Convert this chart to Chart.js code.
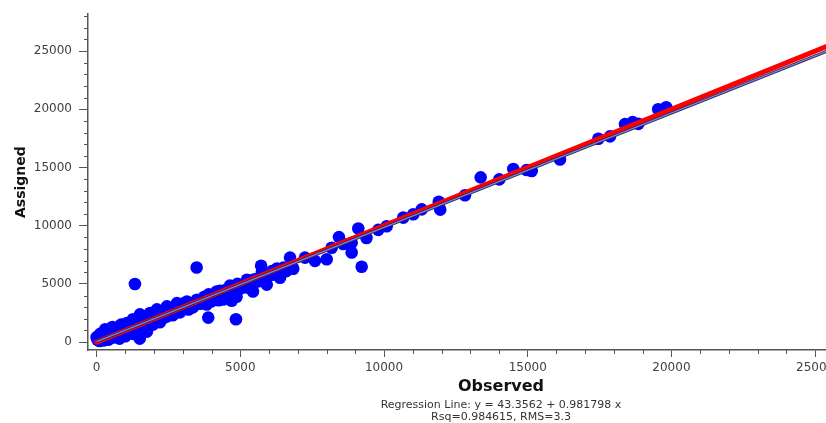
<!DOCTYPE html>
<html><head><meta charset="utf-8">
<script src="https://cdn.jsdelivr.net/npm/chart.js@4"></script>
<style>
html,body{margin:0;padding:0;overflow:hidden;background:#fff;}
#wrap{position:relative;width:930px;height:423px;}
</style></head><body>
<div id="wrap"><canvas id="c"></canvas></div>
<script>
// Observed (x) and Assigned (y) values
const observedValues = [
  0,115,463,706,1054,1263,1507,1855,2098,2446,2794,3142,3490,3838,4176,4639,5230,5752,6274,
  30,250,500,800,1000,1300,1500,1750,1960,2200,2440,2900,3350,3830,4400,4870,5440,5920,6380,
  100,300,400,600,700,900,1100,1200,1400,1600,1700,1900,2000,2300,2500,2700,2900,3100,3300,3500,3700,3900,4100,4300,4500,4700,4900,5100,5300,5500,5700,5900,6100,
  300,550,850,200,
  150,350,550,750,950,1150,1350,1450,1650,1800,2050,2150,2350,2600,2650,2850,3000,3200,3400,3600,3750,4000,4200,4250,4450,4600,4800,5000,5200,5350,5600,5800,6000,6200,6500,6600,
  1333,3480,3884,4848,4700,
  5723,6264,6730,6842,
  7249,7597,8004,8178,8432,8582,8874,8874,9104,9222,9389,9800,10092,10670,11018,11310,11905,11957,12817,13363,14010,14498,14964,15138,16123,17456,17863,18385,18650,18848,19540,19820
];
const assignedValues = [
  425,680,936,1217,1642,1957,2383,2494,2808,3064,3344,3489,3634,3770,4340,4850,5361,6042,6323,
  200,150,350,300,500,700,300,900,1500,1700,2200,2550,2980,3230,3660,3900,4340,4940,5530,
  100,500,200,700,400,1000,900,1300,1500,1400,1900,2000,1800,2500,2400,2900,3000,3000,3300,3500,3600,4100,3900,4400,4500,4600,5000,4900,5300,5400,5600,5800,6100,
  1100,1300,1500,800,
  250,600,500,900,700,1300,1100,1900,1700,2100,2200,2500,2100,2700,2300,2700,3300,2800,3200,3300,3900,3500,4000,3600,4200,4000,4400,4600,4700,5000,5200,5300,5700,5800,6400,6100,
  4995,6408,2102,1957,3550,
  6553,5982,7259,6297,
  7259,6978,7123,8110,9021,8425,7702,8536,9761,6468,8936,9642,9957,10697,10978,11403,12059,11378,12612,14152,13982,14867,14782,14697,15684,17471,17675,18722,18900,18748,19999,20170
];
const regIntercept = 43.3562;
const regSlope = 0.981798;
const xRange = [-300, 28440];
const yRange = [-680, 28170];
const xTickValues = [0, 5000, 10000, 15000, 20000, 25000];
const yTickValues = [0, 5000, 10000, 15000, 20000, 25000];
const minorStep = 1000;
const xTitle = 'Observed';
const yTitle = 'Assigned';
const footLines = ['Regression Line: y = 43.3562 + 0.981798 x', 'Rsq=0.984615, RMS=3.3'];

const points = observedValues.map((x, i) => ({x, y: assignedValues[i]}));
const regLine = [{x: 0, y: regIntercept}, {x: xRange[1], y: regIntercept + regSlope * xRange[1]}];
const idLine = [{x: 0, y: 0}, {x: xRange[1], y: xRange[1]}];

const FONT = '"DejaVu Sans", Verdana, sans-serif';
const AXIS = '#555';

const minorTicks = {
  id: 'minorTicks',
  afterDraw(chart) {
    const ctx = chart.ctx, xs = chart.scales.x, ys = chart.scales.y, a = chart.chartArea;
    ctx.save();
    ctx.strokeStyle = AXIS; ctx.lineWidth = 1;
    for (let v = 0; v <= xs.max; v += minorStep) {
      if (xTickValues.includes(v)) continue;
      const px = Math.round(xs.getPixelForValue(v)) + 0.5;
      ctx.beginPath(); ctx.moveTo(px, a.bottom); ctx.lineTo(px, a.bottom + 4); ctx.stroke();
    }
    for (let v = 0; v <= ys.max; v += minorStep) {
      if (yTickValues.includes(v)) continue;
      const py = Math.round(ys.getPixelForValue(v)) + 0.5;
      ctx.beginPath(); ctx.moveTo(a.left - 4, py); ctx.lineTo(a.left, py); ctx.stroke();
    }
    ctx.restore();
  }
};

new Chart(document.getElementById('c'), {
  type: 'scatter',
  data: {
    datasets: [
      {data: regLine, showLine: true, borderColor: 'rgb(125,125,255)', borderWidth: 1.4, pointRadius: 0},
      {data: regLine, showLine: true, borderColor: '#2a2a38', borderWidth: 3, pointRadius: 0},
      {data: idLine, showLine: true, borderColor: 'rgb(255,0,0)', borderWidth: 5, pointRadius: 0, borderCapStyle: 'round'},
      {data: points, pointRadius: 6.3, pointHoverRadius: 6.3, backgroundColor: 'rgb(0,0,255)', borderWidth: 0}
    ]
  },
  options: {
    responsive: true, maintainAspectRatio: false, animation: false,
    devicePixelRatio: 1,
    layout: {padding: {top: 11, left: 0, right: 16, bottom: 0}},
    plugins: {
      legend: {display: false},
      tooltip: {enabled: false},
      title: {
        display: true, position: 'bottom', fullSize: false,
        text: footLines, color: '#333',
        font: {family: FONT, size: 11, weight: 'normal', lineHeight: '12px'},
        padding: {top: 0, bottom: 0}
      }
    },
    scales: {
      x: {
        type: 'linear', min: xRange[0], max: xRange[1],
        afterBuildTicks: s => { s.ticks = xTickValues.map(v => ({value: v})); },
        afterFit: s => { s.height = 49; },
        border: {display: true, color: AXIS, width: 1.5},
        grid: {display: true, drawOnChartArea: false, drawTicks: true, tickLength: 7, tickColor: AXIS, tickWidth: 1},
        ticks: {autoSkip: false, color: '#404040', padding: 4, maxRotation: 0,
                font: {family: FONT, size: 12}, callback: v => String(v)},
        title: {display: true, text: xTitle, color: '#111', font: {family: FONT, size: 16, weight: 'bold'}, padding: {top: 0, bottom: 3}}
      },
      y: {
        type: 'linear', min: yRange[0], max: yRange[1],
        afterBuildTicks: s => { s.ticks = yTickValues.map(v => ({value: v})); },
        afterFit: s => { s.width = 88; },
        border: {display: true, color: AXIS, width: 1.5},
        grid: {display: true, drawOnChartArea: false, drawTicks: true, tickLength: 9, tickColor: AXIS, tickWidth: 1},
        ticks: {autoSkip: false, color: '#404040', padding: 7,
                font: {family: FONT, size: 12}, callback: v => String(v)},
        title: {display: true, text: yTitle, color: '#111', font: {family: FONT, size: 14, weight: 'bold'}, padding: {top: 12.5, bottom: 0}}
      }
    }
  },
  plugins: [minorTicks]
});
</script>
</body></html>
